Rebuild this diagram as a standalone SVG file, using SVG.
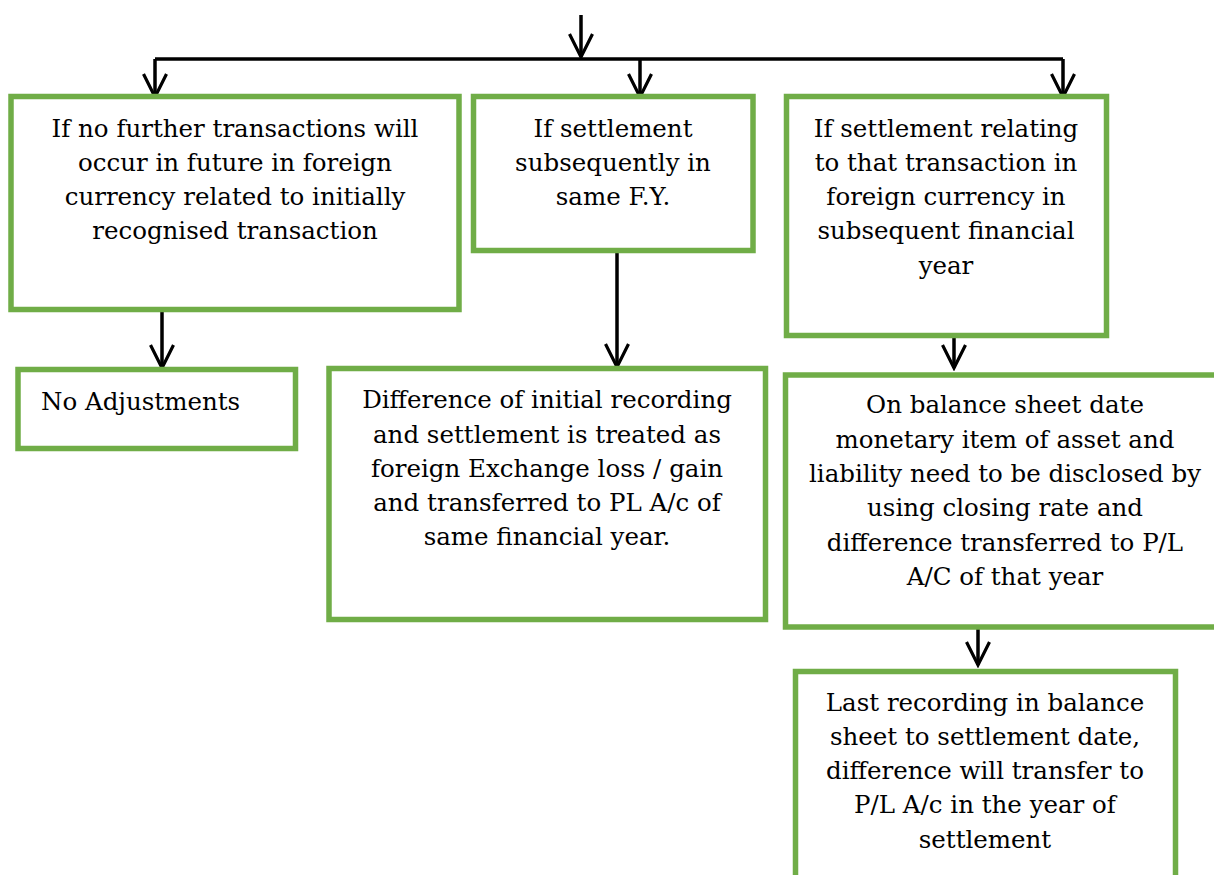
<svg xmlns="http://www.w3.org/2000/svg" width="1214" height="875" viewBox="0 0 1214 875">
  <style>
    .box { fill: #ffffff; stroke: #70AD47; stroke-width: 5.5; }
    .lbl { font-family: "DejaVu Serif", "Liberation Serif", serif; font-size: 24.5px; fill: #000000; text-anchor: middle; }
    .left { text-anchor: start; }
    .wire { fill: none; stroke: #000000; stroke-width: 3.5; }
  </style>
  <defs>
    <marker id="head" markerUnits="userSpaceOnUse" viewBox="0 0 28 28" markerWidth="28" markerHeight="28" refX="25" refY="14" orient="auto">
      <path d="M2,2.5 L25,14 L2,25.5" fill="none" stroke="#000000" stroke-width="3.2"/>
    </marker>
  </defs>

  <rect width="1214" height="875" fill="#ffffff"/>

  <!-- connectors -->
  <g id="connectors">
    <line class="wire" x1="581" y1="15" x2="581" y2="57" marker-end="url(#head)"/>
    <line class="wire" x1="155" y1="59" x2="1063" y2="59"/>
    <line class="wire" x1="155" y1="59" x2="155" y2="97" marker-end="url(#head)"/>
    <line class="wire" x1="640" y1="59" x2="640" y2="97" marker-end="url(#head)"/>
    <line class="wire" x1="1063" y1="59" x2="1063" y2="97" marker-end="url(#head)"/>
    <line class="wire" x1="162" y1="310" x2="162" y2="368" marker-end="url(#head)"/>
    <line class="wire" x1="617" y1="250" x2="617" y2="367" marker-end="url(#head)"/>
    <line class="wire" x1="954" y1="337" x2="954" y2="368" marker-end="url(#head)"/>
    <line class="wire" x1="978" y1="622" x2="978" y2="665" marker-end="url(#head)"/>
  </g>

  <!-- no further transactions -->
  <g id="node-no-further">
    <rect class="box" x="11" y="96.5" width="448" height="213"/>
    <text class="lbl" x="235" y="137">If no further transactions will</text>
    <text class="lbl" x="235" y="171">occur in future in foreign</text>
    <text class="lbl" x="235" y="205">currency related to initially</text>
    <text class="lbl" x="235" y="239">recognised transaction</text>
  </g>

  <!-- settlement in same F.Y. -->
  <g id="node-same-fy">
    <rect class="box" x="473.5" y="96.5" width="279.5" height="154"/>
    <text class="lbl" x="613" y="137">If settlement</text>
    <text class="lbl" x="613" y="171">subsequently in</text>
    <text class="lbl" x="613" y="205">same F.Y.</text>
  </g>

  <!-- settlement in subsequent F.Y. -->
  <g id="node-subsequent-fy">
    <rect class="box" x="786.5" y="96.5" width="320" height="239"/>
    <text class="lbl" x="946" y="137">If settlement relating</text>
    <text class="lbl" x="946" y="171">to that transaction in</text>
    <text class="lbl" x="946" y="205">foreign currency in</text>
    <text class="lbl" x="946" y="239">subsequent financial</text>
    <text class="lbl" x="946" y="274">year</text>
  </g>

  <!-- no adjustments -->
  <g id="node-no-adjustments">
    <rect class="box" x="18" y="369.5" width="277.5" height="79"/>
    <text class="lbl left" x="41" y="410">No Adjustments</text>
  </g>

  <!-- exchange difference in same year -->
  <g id="node-exchange-difference">
    <rect class="box" x="329" y="368.5" width="436.5" height="251"/>
    <text class="lbl" x="547" y="408">Difference of initial recording</text>
    <text class="lbl" x="547" y="443">and settlement is treated as</text>
    <text class="lbl" x="547" y="477">foreign Exchange loss / gain</text>
    <text class="lbl" x="547" y="511">and transferred to PL A/c of</text>
    <text class="lbl" x="547" y="545">same financial year.</text>
  </g>

  <!-- balance sheet date -->
  <g id="node-balance-sheet-date">
    <rect class="box" x="785.5" y="375" width="500" height="252"/>
    <text class="lbl" x="1005" y="413">On balance sheet date</text>
    <text class="lbl" x="1005" y="448">monetary item of asset and</text>
    <text class="lbl" x="1005" y="482">liability need to be disclosed by</text>
    <text class="lbl" x="1005" y="516">using closing rate and</text>
    <text class="lbl" x="1005" y="551">difference transferred to P/L</text>
    <text class="lbl" x="1005" y="585">A/C of that year</text>
  </g>

  <!-- settlement year -->
  <g id="node-settlement-year">
    <rect class="box" x="795.5" y="671.5" width="380" height="300"/>
    <text class="lbl" x="985" y="711">Last recording in balance</text>
    <text class="lbl" x="985" y="745">sheet to settlement date,</text>
    <text class="lbl" x="985" y="779">difference will transfer to</text>
    <text class="lbl" x="985" y="813">P/L A/c in the year of</text>
    <text class="lbl" x="985" y="848">settlement</text>
  </g>
</svg>
